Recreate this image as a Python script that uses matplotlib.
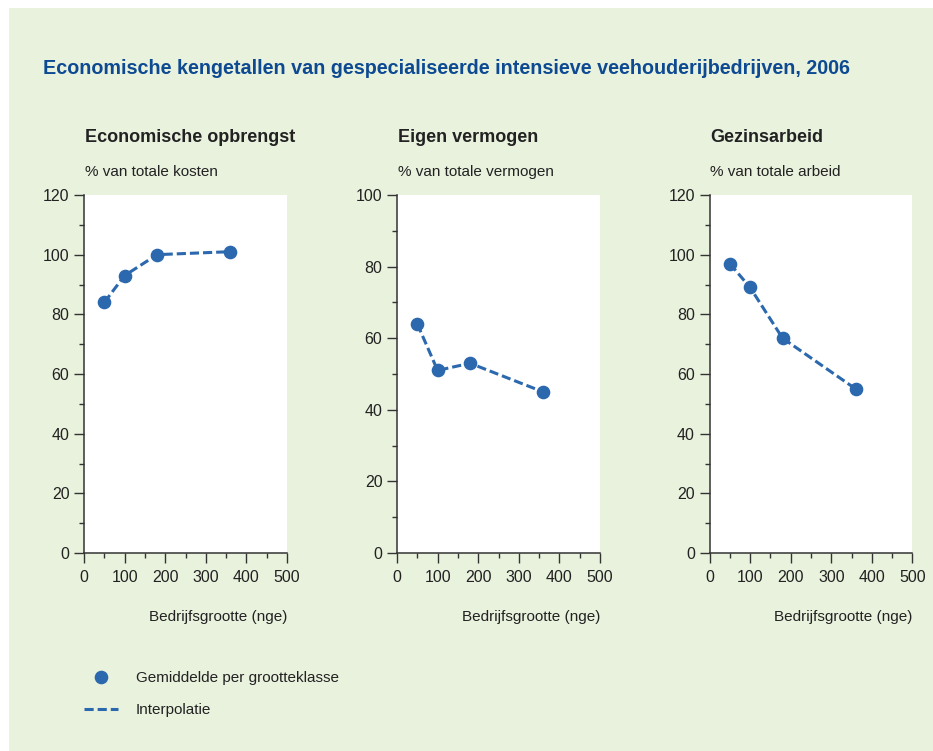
import matplotlib
matplotlib.use("Agg")
import matplotlib.pyplot as plt
from matplotlib import font_manager
from matplotlib.lines import Line2D
from matplotlib.patches import Rectangle
from matplotlib.ticker import MultipleLocator

# ---------------- data ----------------
size_nge = [50, 100, 180, 360]
opbrengst = [84, 93, 100, 101]
eigen_vermogen = [64, 51, 53, 45]
gezinsarbeid = [97, 89, 72, 55]

titles = ["Economische opbrengst", "Eigen vermogen", "Gezinsarbeid"]
units = ["% van totale kosten", "% van totale vermogen", "% van totale arbeid"]
ymax = [120, 100, 120]
series = [opbrengst, eigen_vermogen, gezinsarbeid]
main_title = "Economische kengetallen van gespecialiseerde intensieve veehouderijbedrijven, 2006"
xlabel = "Bedrijfsgrootte (nge)"
legend_labels = ["Gemiddelde per grootteklasse", "Interpolatie"]

# ---------------- style ----------------
names = {f.name for f in font_manager.fontManager.ttflist}
FONT = "Liberation Sans Narrow" if "Liberation Sans Narrow" in names else "Liberation Sans"
plt.rcParams["font.family"] = [FONT, "DejaVu Sans"]

W, H = 933, 751
BG = "#e9f2dd"
BLUE = "#2b68ae"
TITLE_BLUE = "#0d4a92"
TXT = "#222222"
SPINE = "#333333"

fig = plt.figure(figsize=(W / 100, H / 100), dpi=100, facecolor="white")
fig.add_artist(Rectangle((9 / W, 0), 1 - 9 / W, 1 - 8 / H, transform=fig.transFigure,
                         facecolor=BG, edgecolor="none", zorder=-10))


def fx(px):
    return px / W


def fy(py):
    return 1 - py / H


fig.text(fx(43), fy(69), main_title, fontsize=14.2, fontweight="bold",
         color=TITLE_BLUE, va="center", ha="left")

lefts = [84, 397, 709.5]
ax_w = 203
ax_top, ax_bot = 195, 553

dash = (0, (3, 1.3))

for i in range(3):
    ax = fig.add_axes([fx(lefts[i]), fy(ax_bot), ax_w / W, (ax_bot - ax_top) / H])
    ax.set_facecolor("white")
    ax.plot(size_nge, series[i], linestyle=dash, color=BLUE, lw=2.2, zorder=2)
    ax.plot(size_nge, series[i], linestyle="none", marker="o", ms=8.8,
            color=BLUE, zorder=3)
    ax.set_xlim(0, 500)
    ax.set_ylim(0, ymax[i])
    ax.xaxis.set_major_locator(MultipleLocator(100))
    ax.xaxis.set_minor_locator(MultipleLocator(50))
    ax.yaxis.set_major_locator(MultipleLocator(20))
    ax.yaxis.set_minor_locator(MultipleLocator(10))
    for s in ["top", "right"]:
        ax.spines[s].set_visible(False)
    for s in ["left", "bottom"]:
        ax.spines[s].set_color(SPINE)
        ax.spines[s].set_linewidth(1.1)
    ax.tick_params(which="major", length=7.5, width=1.0, color=SPINE,
                   labelsize=11.5, labelcolor=TXT)
    ax.tick_params(axis="x", which="major", pad=5)
    ax.tick_params(axis="y", which="major", pad=3)
    ax.tick_params(which="minor", length=3.8, width=1.0, color=SPINE)
    ax.set_xlabel(xlabel, fontsize=11, color=TXT, loc="right", labelpad=18)
    fig.text(fx(lefts[i] + 1), fy(137), titles[i], fontsize=13, fontweight="bold",
             color=TXT, va="center", ha="left")
    fig.text(fx(lefts[i] + 1), fy(172), units[i], fontsize=11, color=TXT,
             va="center", ha="left")

handles = [Line2D([], [], linestyle="none", marker="o", ms=8.8, color=BLUE),
           Line2D([], [], linestyle=dash, lw=2.2, color=BLUE)]
fig.legend(handles, legend_labels, loc="upper left", bbox_to_anchor=(fx(84), fy(671)),
           frameon=False, fontsize=11, handlelength=2.2, handletextpad=1.2,
           borderpad=0, borderaxespad=0, labelspacing=1.2, labelcolor=TXT)

fig.savefig("out.png", dpi=100, facecolor=fig.get_facecolor())
